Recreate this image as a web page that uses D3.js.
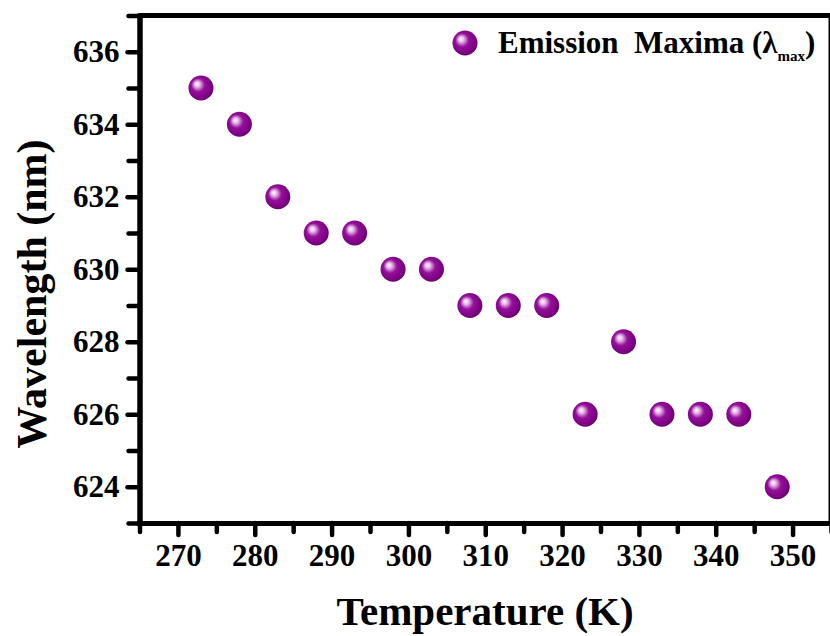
<!DOCTYPE html>
<html>
<head>
<meta charset="utf-8">
<script src="https://cdn.jsdelivr.net/npm/d3@7"></script>
<style>
  html, body { margin: 0; padding: 0; background: #ffffff; }
  svg { display: block; }
  text { font-family: "Liberation Serif", "Times New Roman", serif; font-weight: bold; fill: #000; }
</style>
</head>
<body>
<svg id="chart" width="830" height="636"></svg>
<script>
// Emission maximum wavelength versus temperature
const temperature = [273, 278, 283, 288, 293, 298, 303, 308, 313, 318, 323, 328, 333, 338, 343, 348];
const wavelength  = [635, 634, 632, 631, 631, 630, 630, 629, 629, 629, 626, 628, 626, 626, 626, 624];

const xMajorTicks = [270, 280, 290, 300, 310, 320, 330, 340, 350];
const xMinorTicks = [265, 275, 285, 295, 305, 315, 325, 335, 345, 355];
const yMajorTicks = [624, 626, 628, 630, 632, 634, 636];
const yMinorTicks = [623, 625, 627, 629, 631, 633, 635, 637];

const xTitle = "Temperature (K)";
const yTitle = "Wavelength (nm)";
const legendLabel = "Emission  Maxima (\u03bb";
const legendSub = "max";

const svg = d3.select("#chart");

const x = d3.scaleLinear().domain([265, 355]).range([139.5, 831]);
const y = d3.scaleLinear().domain([623, 637]).range([523, 15.5]);

// sphere-like shading for the markers
const defs = svg.append("defs");
const grad = defs.append("radialGradient")
  .attr("id", "ball")
  .attr("cx", "0.45").attr("cy", "0.45").attr("r", "0.6")
  .attr("fx", "0.33").attr("fy", "0.33");
grad.append("stop").attr("offset", "0").attr("stop-color", "#ffffff");
grad.append("stop").attr("offset", "0.18").attr("stop-color", "#e8b8e8");
grad.append("stop").attr("offset", "0.45").attr("stop-color", "#94109a");
grad.append("stop").attr("offset", "0.85").attr("stop-color", "#7a0080");
grad.append("stop").attr("offset", "1").attr("stop-color", "#5e0064");

// frame: top and right lines
svg.append("line")
  .attr("x1", x(265)).attr("x2", x(355))
  .attr("y1", y(637)).attr("y2", y(637))
  .attr("stroke", "#000").attr("stroke-width", 5);
svg.append("line")
  .attr("x1", x(355)).attr("x2", x(355))
  .attr("y1", y(637)).attr("y2", y(623))
  .attr("stroke", "#000").attr("stroke-width", 5);

function styleAxis(g) {
  g.select(".domain").attr("stroke", "#000").attr("stroke-width", 5).attr("stroke-linecap", "square");
  g.selectAll(".tick line").attr("stroke", "#000").attr("stroke-width", 4.5).attr("stroke-linecap", "round");
  g.selectAll(".tick text").style("font-size", "31px").style("font-family", "'Liberation Serif', serif").style("font-weight", "bold").attr("fill", "#000");
}

// minor ticks
svg.append("g")
  .attr("transform", `translate(0,${y(623)})`)
  .call(d3.axisBottom(x).tickValues(xMinorTicks).tickSize(9).tickSizeOuter(0).tickFormat(""))
  .call(styleAxis);
svg.append("g")
  .attr("transform", `translate(${x(265)},0)`)
  .call(d3.axisLeft(y).tickValues(yMinorTicks).tickSize(11).tickSizeOuter(0).tickFormat(""))
  .call(styleAxis);

// major ticks with labels
svg.append("g")
  .attr("transform", `translate(0,${y(623)})`)
  .call(d3.axisBottom(x).tickValues(xMajorTicks).tickSize(12).tickSizeOuter(0).tickPadding(9).tickFormat(d3.format("d")))
  .call(styleAxis);
svg.append("g")
  .attr("transform", `translate(${x(265)},0)`)
  .call(d3.axisLeft(y).tickValues(yMajorTicks).tickSize(12).tickSizeOuter(0).tickPadding(8).tickFormat(d3.format("d")))
  .call(styleAxis);

// axis titles
svg.append("text")
  .attr("x", 485).attr("y", 625)
  .attr("text-anchor", "middle")
  .style("font-size", "41px")
  .text(xTitle);
svg.append("text")
  .attr("transform", "translate(46,294) rotate(-90)")
  .attr("text-anchor", "middle")
  .style("font-size", "42px")
  .text(yTitle);

// data points
svg.append("g")
  .selectAll("circle")
  .data(temperature.map((t, i) => ({ t, w: wavelength[i] })))
  .join("circle")
  .attr("cx", d => x(d.t))
  .attr("cy", d => y(d.w))
  .attr("r", 12.5)
  .attr("fill", "url(#ball)");

// legend
const legend = svg.append("g");
legend.append("circle")
  .attr("cx", 465).attr("cy", 43).attr("r", 12.5)
  .attr("fill", "url(#ball)");
const lt = legend.append("text")
  .attr("x", 498).attr("y", 53)
  .attr("xml:space", "preserve")
  .style("white-space", "pre")
  .style("font-size", "31px");
lt.append("tspan").text(legendLabel);
lt.append("tspan").attr("dy", 8).style("font-size", "15px").text(legendSub);
lt.append("tspan").attr("dy", -8).text(")");
</script>
</body>
</html>
